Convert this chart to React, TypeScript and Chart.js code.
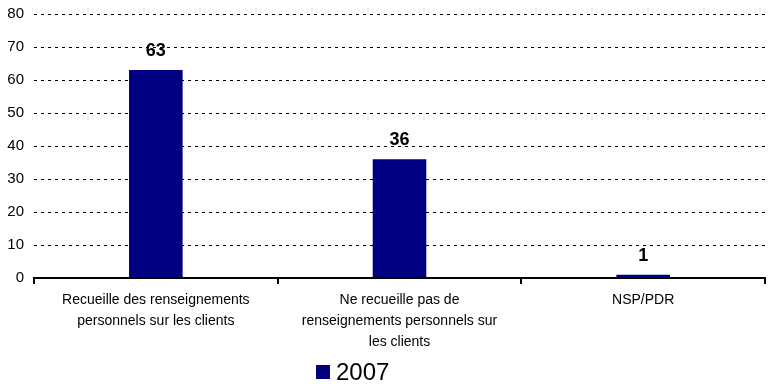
import React, { useEffect, useRef } from "react";
import { Chart, registerables } from "chart.js";

Chart.register(...registerables);

const categories: (string | string[])[] = [
  ["Recueille des renseignements", "personnels sur les clients"],
  ["Ne recueille pas de", "renseignements personnels sur", "les clients"],
  "NSP/PDR",
];
const seriesLabel = "2007";
const values2007 = [63, 36, 1];
const yTicks = [0, 10, 20, 30, 40, 50, 60, 70, 80];

const BAR_COLOR = "#000080";
const FONT = "'Liberation Sans', Arial, sans-serif";

const valueLabels = {
  id: "valueLabels",
  afterDatasetsDraw(chart: any) {
    const ctx = chart.ctx;
    ctx.save();
    ctx.font = `bold 18px ${FONT}`;
    ctx.fillStyle = "#000";
    ctx.textAlign = "center";
    ctx.textBaseline = "alphabetic";
    chart.data.datasets.forEach((ds: any, i: number) => {
      const meta = chart.getDatasetMeta(i);
      meta.data.forEach((bar: any, j: number) => {
        ctx.fillText(String(ds.data[j]), bar.x, bar.y - 14);
      });
    });
    ctx.restore();
  },
};

const bottomLegend = {
  id: "bottomLegend",
  afterDraw(chart: any) {
    const ctx = chart.ctx;
    const ds = chart.data.datasets[0];
    ctx.save();
    const x = 316;
    const y = 372;
    ctx.fillStyle = ds.backgroundColor;
    ctx.fillRect(x, y - 7, 14, 14);
    ctx.fillStyle = "#000";
    ctx.font = `24px ${FONT}`;
    ctx.textAlign = "left";
    ctx.textBaseline = "middle";
    ctx.fillText(ds.label, x + 20, y + 1);
    ctx.restore();
  },
};

export default function App() {
  const ref = useRef<HTMLCanvasElement>(null);
  useEffect(() => {
    document.body.style.margin = "0";
    const chart = new Chart(ref.current!, {
      type: "bar",
      data: {
        labels: categories,
        datasets: [
          {
            label: seriesLabel,
            data: values2007,
            backgroundColor: BAR_COLOR,
            borderWidth: 0,
            barPercentage: 0.22,
            categoryPercentage: 1,
          },
        ],
      },
      options: {
        responsive: false,
        animation: false,
        layout: { padding: { top: 14, right: 8, bottom: 28, left: 0 } },
        plugins: {
          legend: { display: false },
          tooltip: { enabled: false },
        },
        scales: {
          x: {
            grid: {
              drawOnChartArea: false,
              drawTicks: true,
              tickLength: 6,
              color: "#000",
              lineWidth: 2,
              offset: true,
            },
            border: { display: true, color: "#000", width: 2 },
            ticks: {
              color: "#000",
              font: { family: FONT, size: 14, lineHeight: 1.5 },
              padding: 6,
              maxRotation: 0,
              autoSkip: false,
            },
          },
          y: {
            min: 0,
            max: 80,
            afterBuildTicks: (axis: any) => {
              axis.ticks = yTicks.map((v) => ({ value: v }));
            },
            afterFit: (axis: any) => {
              axis.width = 34;
              axis.paddingTop = 0;
            },
            grid: {
              color: "#000",
              lineWidth: 1,
              drawTicks: false,
            },
            border: { display: false, dash: [3, 4] },
            ticks: {
              color: "#000",
              font: { family: FONT, size: 15 },
              padding: 10,
            },
          },
        },
      },
      plugins: [valueLabels, bottomLegend],
    });
    return () => chart.destroy();
  }, []);
  return (
    <div style={{ width: 773, height: 387 }}>
      <canvas ref={ref} width={773} height={387} />
    </div>
  );
}
